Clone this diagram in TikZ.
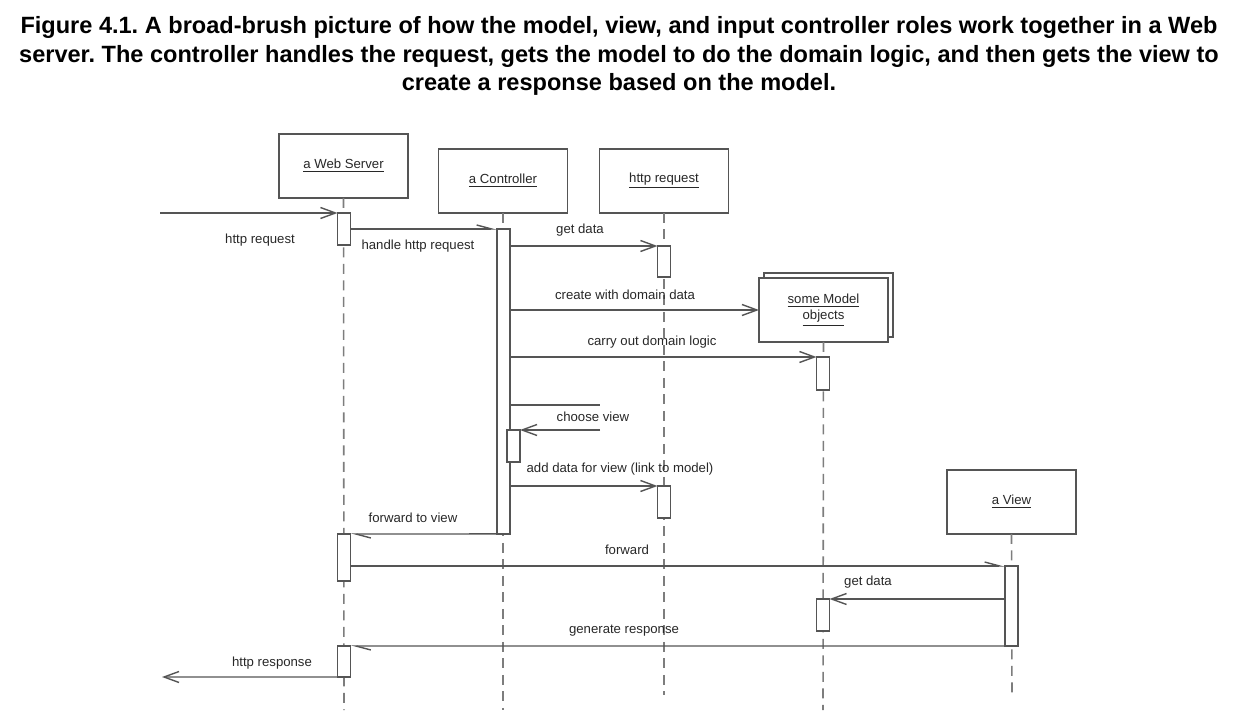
\documentclass[tikz,border=0pt]{standalone}
\usepackage{fontspec}
\setmainfont{Liberation Sans}
\usetikzlibrary{arrows.meta,positioning}
\definecolor{linec}{RGB}{85,85,85}
\definecolor{dashc}{RGB}{125,125,125}
\definecolor{textc}{RGB}{40,40,40}
\tikzset{
  obj/.style={draw=linec, line width=0.8pt, fill=white, minimum width=2.58cm, minimum height=1.28cm, outer sep=0pt, font=\fontsize{7.5}{9.5}\selectfont, text=textc, align=center},
  act/.style={draw=linec, line width=0.7pt, fill=white, minimum width=0.26cm, inner sep=0pt, outer sep=0pt, anchor=north},
  msg/.style={draw=linec, line width=0.8pt, -{Straight Barb[length=0.3cm,width=0.22cm]}},
  half/.style={draw=linec, line width=0.8pt, -{Straight Barb[harpoon,length=0.3cm,width=0.16cm]}},
  life/.style={draw=dashc, line width=0.9pt, dash pattern=on 0.2cm off 0.13cm},
  lbl/.style={font=\fontsize{7.5}{9}\selectfont, text=textc, inner sep=1pt},
}
\begin{document}
\begin{tikzpicture}[x=0.02cm, y=-0.02cm]
\useasboundingbox (0,0) rectangle (1238,726);
% caption
\node[align=center, font=\bfseries\fontsize{13.4}{16.4}\selectfont\frenchspacing] (title) at (619,56)
  {Figure 4.1. A broad-brush picture of how the model, view, and input controller roles work together in a Web\\
   server. The controller handles the request, gets the model to do the domain logic, and then gets the view to\\
   create a response based on the model.};
% objects
\node[obj] (web) at (343.5,166) {\underline{a Web Server}};
\node[obj] (ctl) at (503,181) {\underline{a Controller}};
\node[obj] (req) at (664,181) {\underline{http request}};
\node[obj] (modelback) at (828.5,305) {};
\node[obj] (model) at (823.5,310) {\underline{some Model}\\ \underline{objects}};
\node[obj] (view) at (1011.5,502) {\underline{a View}};
% lifelines
\coordinate (webend) at (344,710);
\coordinate (ctlend) at (503,710);
\coordinate (reqend) at (664,695);
\coordinate (modelend) at (823,710);
\coordinate (viewend) at (1012,693);
\draw[life] (web.south) -- (webend);
\draw[life] (ctl.south) -- (ctlend);
\draw[life] (req.south) -- (reqend);
\draw[life] (model.south) -- (modelend);
\draw[life] (view.south) -- (viewend);
% activations
\node[act, minimum height=0.64cm] (ws1) at (344,213) {};
\node[act, minimum height=6.1cm] (ctl1) at (503.5,229) {};
\node[act, minimum height=0.62cm] (req1) at (664,246) {};
\node[act, minimum height=0.66cm] (mod1) at (823,357) {};
\node[act, minimum height=0.64cm] (ctl2) at (513.5,430) {};
\node[act, minimum height=0.64cm] (req2) at (664,486) {};
\node[act, minimum height=0.94cm] (ws2) at (344,534) {};
\node[act, minimum height=1.6cm] (view1) at (1011.5,566) {};
\node[act, minimum height=0.64cm] (mod2) at (823,599) {};
\node[act, minimum height=0.62cm] (ws3) at (344,646) {};
% messages
\coordinate (in) at (160,213);
\coordinate (out) at (162,677);
\coordinate (cv) at (600,405);
\draw[msg] (in) -- (ws1.north west);
\draw[half] (ws1.east |- ctl1.north) -- (ctl1.north west);
\draw[msg] (ctl1.east |- req1.north) -- (req1.north west);
\draw[msg] (ctl1.east |- model.west) -- (model.west);
\draw[msg] (ctl1.east |- mod1.north) -- (mod1.north west);
\draw[linec, line width=0.8pt] (ctl1.east |- cv) -- (cv);
\draw[msg] (cv |- ctl2.north) -- (ctl2.north east);
\draw[msg] (ctl1.east |- req2.north) -- (req2.north west);
\draw[half] (ctl1.south west) -- (ws2.north east);
\draw[half] (ws2.east |- view1.north) -- (view1.north west);
\draw[msg] (view1.west |- mod2.north) -- (mod2.north east);
\draw[half] (view1.south west) -- (ws3.north east);
\draw[msg] (ws3.south west) -- (out);
% labels
\node[lbl] (l1) at (260,240) {http request};
\node[lbl] (l2) at (418,246) {handle http request};
\node[lbl] (l3) at (580,230) {get data};
\node[lbl] (l4) at (625,295) {create with domain data};
\node[lbl] (l5) at (652,342) {carry out domain logic};
\node[lbl] (l6) at (593,417) {choose view};
\node[lbl] (l7) at (620,469) {add data for view (link to model)};
\node[lbl] (l8) at (413,518) {forward to view};
\node[lbl] (l9) at (627,550) {forward};
\node[lbl] (l10) at (868,582) {get data};
\node[lbl] (l11) at (624,631) {generate response};
\node[lbl] (l12) at (272,663) {http response};
\end{tikzpicture}
\end{document}
